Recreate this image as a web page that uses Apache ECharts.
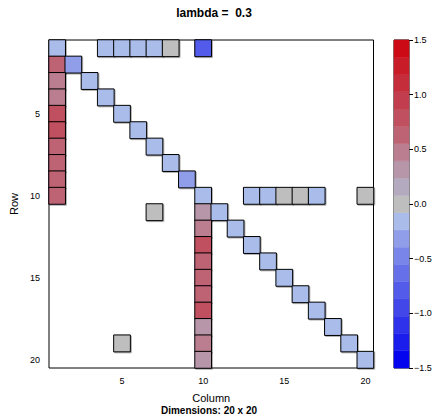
<!DOCTYPE html>
<html><head><meta charset="utf-8">
<script src="https://cdn.jsdelivr.net/npm/echarts@6/dist/echarts.min.js"></script>
<style>html,body{margin:0;padding:0;background:#fff}#c{width:435px;height:418px}</style>
</head><body><div id="c"></div>
<script>
// ---- data ----
const categories = ['1','2','3','4','5','6','7','8','9','10','11','12','13','14','15','16','17','18','19','20'];
const tickLabels = ['5','10','15','20'];
const rowIdx = [1,1,1,1,1,1,1, 2,2, 3,3, 4,4, 5,5, 6,6, 7,7, 8,8, 9,9, 10,10,10,10,10,10,10,10, 11,11,11, 12,12, 13,13, 14,14, 15,15, 16,16, 17,17, 18,18, 19,19,19, 20,20];
const colIdx = [1,4,5,6,7,8,10, 1,2, 1,3, 1,4, 1,5, 1,6, 1,7, 1,8, 1,9, 1,10,13,14,15,16,17,20, 7,10,11, 10,12, 10,13, 10,14, 10,15, 10,16, 10,17, 10,18, 5,10,19, 10,20];
const values = [-0.16,-0.16,-0.16,-0.16,-0.16,0,-0.79,
  0.63,-0.32, 0.47,-0.16, 0.47,-0.16, 0.79,-0.16, 0.79,-0.16, 0.63,-0.16, 0.63,-0.16, 0.63,-0.32,
  0.63,-0.16,-0.16,-0.16,0,0,-0.16,0,
  0,0.32,-0.16, 0.47,-0.16, 0.79,-0.16, 0.63,-0.16, 0.63,-0.16, 0.63,-0.16, 0.79,-0.16, 0.32,-0.16,
  0,0.47,-0.16, 0.32,-0.16];
const colorTicks = [-1.5,-1.0,-0.5,0,0.5,1.0,1.5];
const binColors = ['#0404EE','#1A1DEC','#2E32EB','#4247EA','#535BEA','#6670E9','#7A85E9','#909EEA','#A9BCEA',
  '#BEBEBE',
  '#B4AABF','#B796A9','#BB7E90','#BD6373','#C0505F','#C23E4E','#C52D3B','#C91C29','#CC0A16'];
const scaleMin = -1.5, scaleMax = 1.5;

// ---- build ----
const nb = binColors.length, bw = (scaleMax - scaleMin) / nb;
const bins = binColors.map((c, i) => [0, scaleMin + i * bw, scaleMin + (i + 1) * bw, i]);
const pieces = binColors.map((c, i) => ({gte: scaleMin + i * bw, lt: scaleMin + (i + 1) * bw, color: c}));
const cells = values.map((v, i) => [colIdx[i] - 1, rowIdx[i] - 1, v]);
const FONT = 'Liberation Sans, Arial, Helvetica, sans-serif';
const showTick = (idx, val) => tickLabels.indexOf(val) >= 0;
const minus = v => v.toFixed(1).replace('-', '\u2212');

const chart = echarts.init(document.getElementById('c'), null, {renderer: 'svg'});
chart.setOption({
  animation: false,
  backgroundColor: '#fff',
  textStyle: {fontFamily: FONT},
  title: [
    {text: 'lambda =  0.3', left: 214, top: 7, padding: 0, textAlign: 'center',
     textStyle: {fontSize: 12, fontWeight: 'bold', color: '#000', fontFamily: FONT}},
    {text: 'Dimensions: 20 x 20', left: 209, top: 405, padding: 0, textAlign: 'center',
     textStyle: {fontSize: 10, fontWeight: 'bold', color: '#000', fontFamily: FONT}}
  ],
  grid: [
    {left: 44.5, top: 40, width: 329, height: 328, show: true, borderColor: '#000', borderWidth: 1, backgroundColor: 'transparent'},
    {left: 394, top: 40, width: 15, height: 328, show: true, borderColor: '#000', borderWidth: 1, backgroundColor: 'transparent'}
  ],
  xAxis: [
    {type: 'category', data: categories, gridIndex: 0, position: 'bottom',
     axisLine: {show: false}, splitLine: {show: false},
     axisTick: {alignWithLabel: true, interval: showTick, length: 5, lineStyle: {color: '#000'}},
     axisLabel: {interval: showTick, fontSize: 9, color: '#000', margin: 8, fontFamily: FONT},
     name: 'Column', nameLocation: 'middle', nameGap: 24,
     nameTextStyle: {fontSize: 11, color: '#000', fontFamily: FONT}},
    {type: 'category', data: categories, gridIndex: 0, position: 'top',
     axisLine: {show: false}, splitLine: {show: false},
     axisTick: {alignWithLabel: true, interval: showTick, length: 5, lineStyle: {color: '#000'}},
     axisLabel: {show: false}},
    {type: 'category', data: ['k'], gridIndex: 1, show: false}
  ],
  yAxis: [
    {type: 'category', data: categories, gridIndex: 0, position: 'left', inverse: true,
     axisLine: {show: false}, splitLine: {show: false},
     axisTick: {alignWithLabel: true, interval: showTick, length: 5, lineStyle: {color: '#000'}},
     axisLabel: {interval: showTick, fontSize: 9, color: '#000', margin: 9, fontFamily: FONT},
     name: 'Row', nameLocation: 'middle', nameGap: 30, nameRotate: 90,
     nameTextStyle: {fontSize: 11, color: '#000', fontFamily: FONT}},
    {type: 'category', data: categories, gridIndex: 0, position: 'right', inverse: true,
     axisLine: {show: false}, splitLine: {show: false},
     axisTick: {alignWithLabel: true, interval: showTick, length: 5, lineStyle: {color: '#000'}},
     axisLabel: {show: false}},
    {type: 'value', gridIndex: 1, position: 'right', min: scaleMin, max: scaleMax, interval: 0.5,
     axisLine: {show: false}, splitLine: {show: false},
     axisTick: {show: true, length: 4, lineStyle: {color: '#000'}},
     axisLabel: {fontSize: 9, color: '#000', margin: 5, formatter: minus, fontFamily: FONT}}
  ],
  visualMap: {type: 'piecewise', show: false, dimension: 2, seriesIndex: 0, pieces: pieces},
  series: [
    {type: 'heatmap', xAxisIndex: 0, yAxisIndex: 0, data: cells,
     itemStyle: {borderColor: '#000', borderWidth: 1,
       shadowColor: 'rgba(0,0,0,0.3)', shadowBlur: 1, shadowOffsetX: 1, shadowOffsetY: 1},
     emphasis: {disabled: true}},
    {type: 'custom', xAxisIndex: 2, yAxisIndex: 2, data: bins, encode: {x: 0, y: [1, 2]},
     renderItem: function (params, api) {
       const p0 = api.coord([0, api.value(1)]);
       const p1 = api.coord([0, api.value(2)]);
       const w = api.size([1, 0])[0];
       const c = binColors[api.value(3)];
       return {type: 'rect',
         shape: {x: p0[0] - w / 2, y: p1[1], width: w, height: p0[1] - p1[1]},
         style: {fill: c, stroke: c, lineWidth: 0.5}};
     }}
  ]
});
</script>
</body></html>
